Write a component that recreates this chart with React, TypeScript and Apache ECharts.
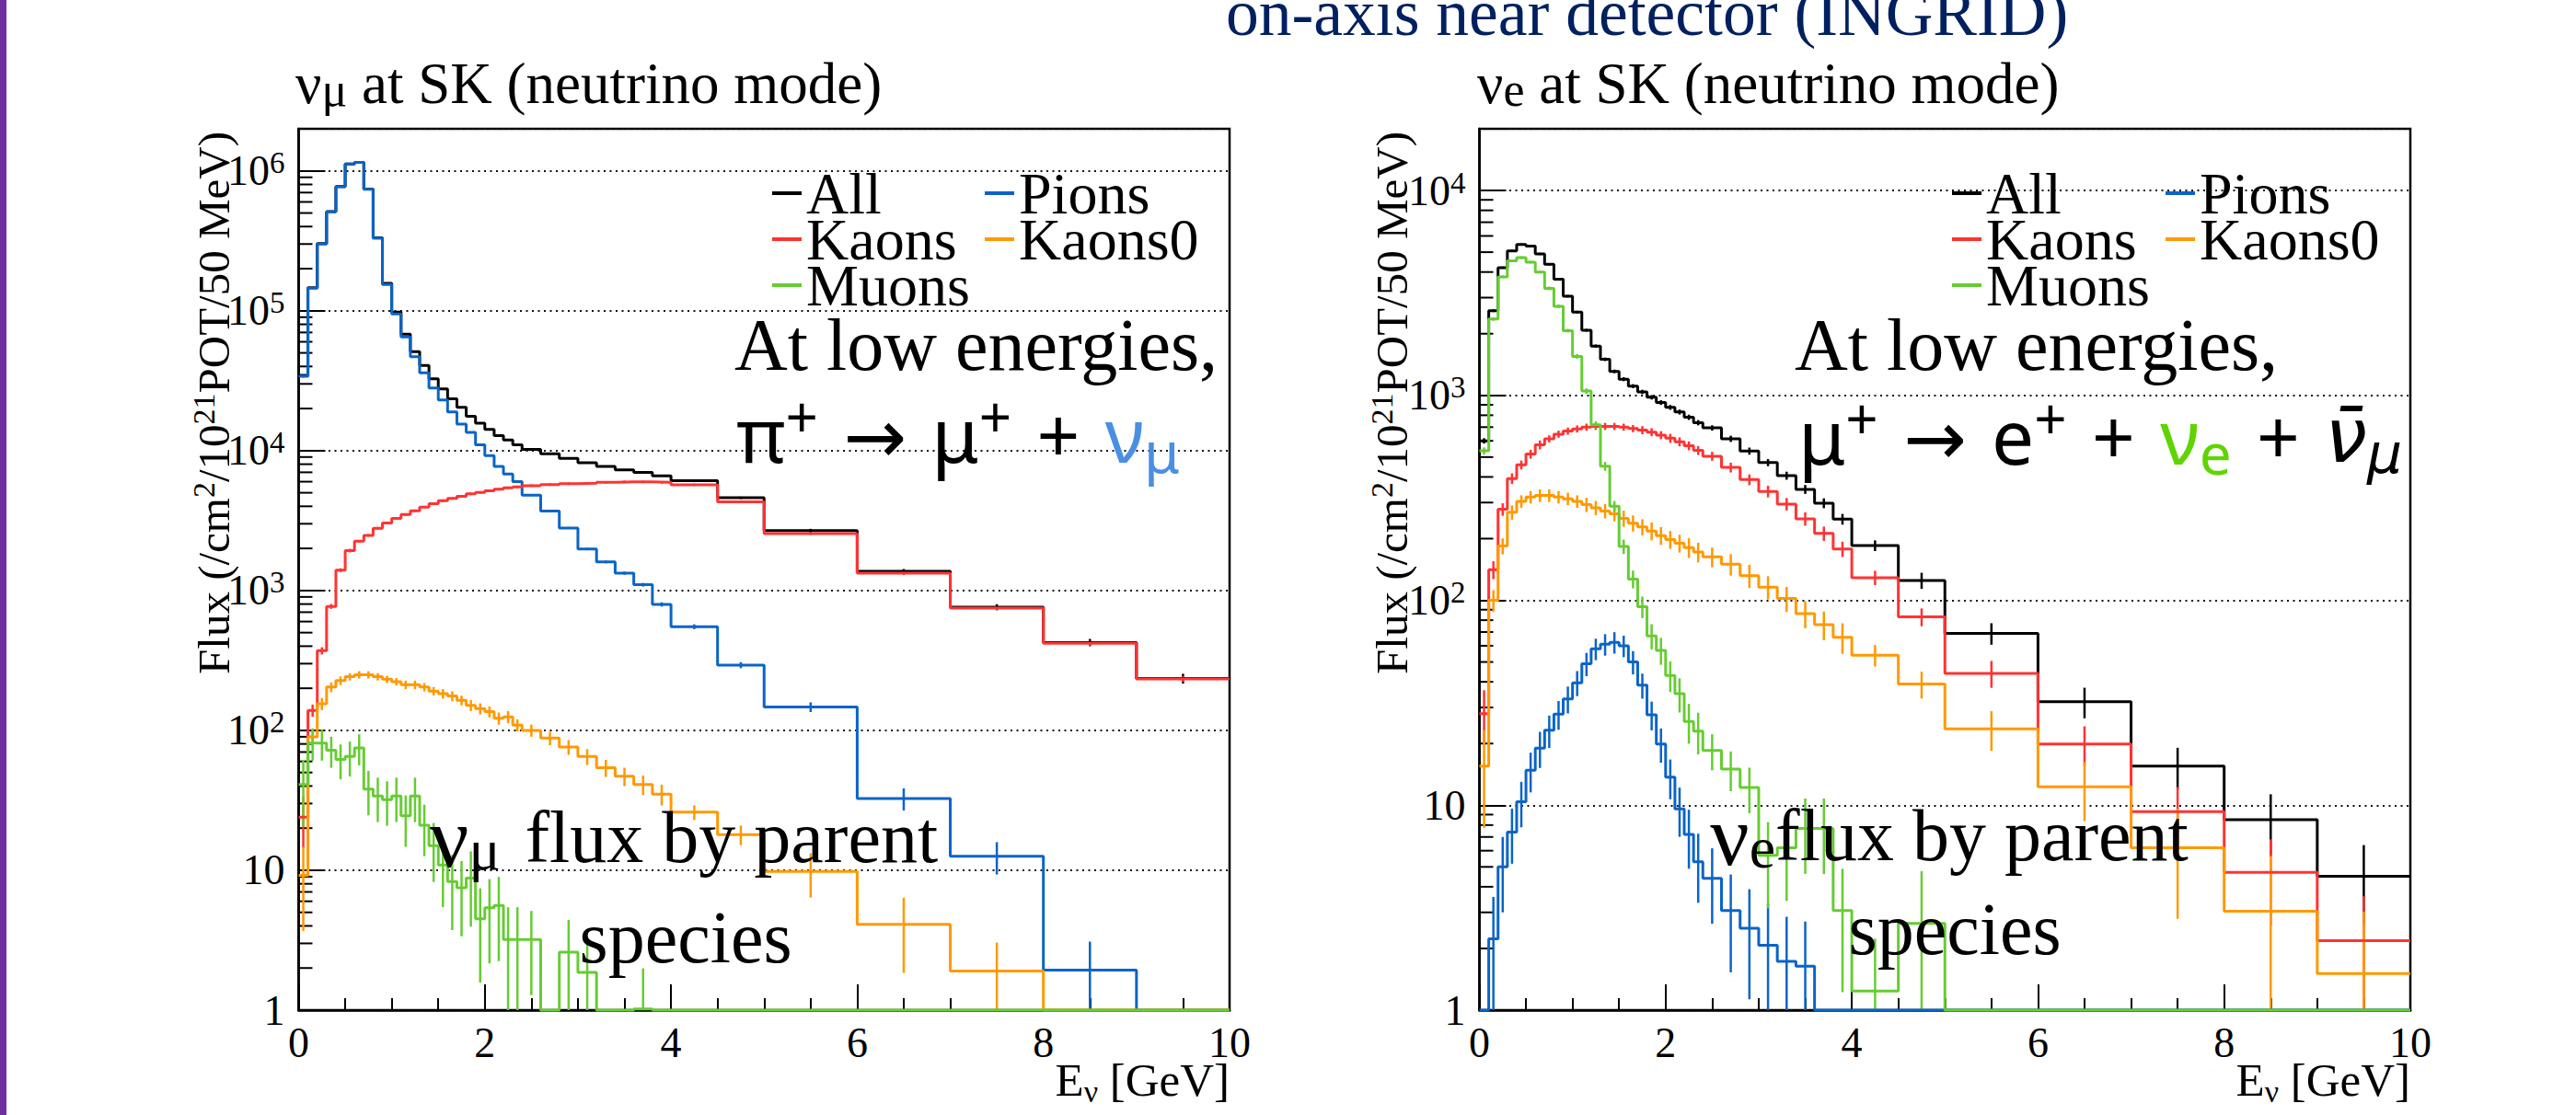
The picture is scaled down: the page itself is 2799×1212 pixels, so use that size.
import React, { useEffect, useRef } from "react";
import * as echarts from "echarts";

// Bin edges (GeV)
const EDGES = [0, 0.1, 0.2, 0.3, 0.4, 0.5, 0.6, 0.7, 0.8, 0.9, 1.0, 1.1, 1.2, 1.3, 1.4, 1.5, 1.6, 1.7, 1.8, 1.9, 2.0, 2.1, 2.2, 2.3, 2.4, 2.6, 2.8, 3.0, 3.2, 3.4, 3.6, 3.8, 4.0, 4.5, 5.0, 6, 7, 8, 9, 10];

// numu at SK, flux by parent
const NUMU_ALL = [34500, 146000, 302000, 512000, 772000, 1122000, 1152000, 743000, 333000, 157000, 98000, 68000, 51000, 40600, 32600, 27600, 23500, 20400, 17600, 15700, 14200, 12800, 11900, 11000, 10200, 9500, 8800, 8200, 7700, 7300, 7000, 6600, 6100, 4600, 2680, 1370, 760, 425, 235];
const NUMU_PIONS = [34000, 145000, 300000, 510000, 770000, 1120000, 1150000, 740000, 330000, 154000, 95000, 65000, 47000, 36000, 28000, 23000, 18900, 15500, 13500, 11000, 9200, 7700, 6800, 6000, 4800, 3700, 2800, 1980, 1600, 1330, 1100, 796, 551, 293, 147, 32.6, 12.6, 1.93, 0];
const NUMU_KAONS = [24, 139, 371, 770, 1400, 1930, 2250, 2480, 2790, 3040, 3280, 3490, 3720, 3950, 4180, 4390, 4550, 4720, 4910, 5030, 5160, 5300, 5430, 5510, 5620, 5710, 5800, 5850, 5930, 5980, 5980, 5930, 5700, 4300, 2550, 1330, 750, 420, 233];
const NUMU_KAONS0 = [9.2, 90, 155, 204, 227, 242, 250, 250, 242, 232, 223, 212, 212, 204, 191, 183, 176, 164, 151, 143, 136, 122, 125, 109, 100, 88, 76, 65, 54, 47, 41, 35, 26, 18, 9.8, 4.1, 1.9, 0, 0];
const NUMU_MUONS = [41, 81, 81, 72, 62, 65, 75, 38, 34, 32, 34, 24.5, 34, 21, 15, 10.9, 8.3, 7.5, 8.8, 4.5, 5.4, 5.6, 3.2, 3.2, 3.2, 0, 2.6, 1.86, 0, 0, 1.02, 0, 0, 0, 0, 0, 0, 0, 0];

// relative statistical errors, numu
const NUMU_ALL_ERR = [0.01, 0.005, 0.005, 0.005, 0.005, 0.005, 0.005, 0.005, 0.005, 0.005, 0.005, 0.005, 0.005, 0.005, 0.005, 0.005, 0.005, 0.005, 0.005, 0.005, 0.005, 0.005, 0.005, 0.005, 0.01, 0.01, 0.01, 0.01, 0.01, 0.01, 0.01, 0.01, 0.015, 0.02, 0.03, 0.04, 0.05, 0.06, 0.08];
const NUMU_PIONS_ERR = [0.02, 0.005, 0.005, 0.005, 0.005, 0.005, 0.005, 0.005, 0.005, 0.005, 0.005, 0.005, 0.005, 0.005, 0.005, 0.005, 0.006, 0.006, 0.007, 0.008, 0.008, 0.01, 0.01, 0.01, 0.012, 0.014, 0.016, 0.02, 0.022, 0.025, 0.03, 0.035, 0.04, 0.05, 0.08, 0.18, 0.26, 0.6, 0];
const NUMU_KAONS_ERR = [0.4, 0.1, 0.06, 0.04, 0.03, 0.03, 0.02, 0.02, 0.02, 0.02, 0.02, 0.02, 0.02, 0.02, 0.02, 0.02, 0.02, 0.02, 0.02, 0.02, 0.02, 0.02, 0.02, 0.02, 0.02, 0.02, 0.02, 0.02, 0.02, 0.02, 0.02, 0.02, 0.02, 0.02, 0.02, 0.03, 0.03, 0.04, 0.05];
const NUMU_KAONS0_ERR = [0.6, 0.15, 0.1, 0.08, 0.07, 0.06, 0.06, 0.06, 0.06, 0.06, 0.06, 0.07, 0.07, 0.07, 0.07, 0.08, 0.08, 0.08, 0.09, 0.09, 0.09, 0.1, 0.1, 0.1, 0.1, 0.11, 0.12, 0.13, 0.14, 0.15, 0.16, 0.17, 0.12, 0.16, 0.35, 0.55, 0.6, 0, 0];
const NUMU_MUONS_ERR = [0.5, 0.25, 0.25, 0.25, 0.28, 0.28, 0.25, 0.35, 0.35, 0.35, 0.35, 0.4, 0.35, 0.4, 0.45, 0.5, 0.55, 0.55, 0.55, 0.65, 0.6, 0.6, 0.7, 0.7, 0.6, 0, 0.7, 0.75, 0, 0, 0.95, 0, 0, 0, 0, 0, 0, 0, 0];

// nue at SK, flux by parent
const NUE_ALL = [600, 2590, 4200, 5070, 5450, 5360, 4900, 4360, 3690, 3050, 2550, 2080, 1740, 1500, 1310, 1200, 1110, 1040, 979, 923, 874, 830, 782, 736, 694, 614, 535, 470, 406, 348, 298, 249, 185, 125, 69, 32, 15.5, 8.5, 4.5];
const NUE_PIONS = [0, 2.23, 5.0, 7.4, 10.4, 14.8, 19, 23.2, 27.8, 33, 39.6, 49, 58, 61, 62.4, 60, 50, 38.5, 27.6, 19.9, 13.7, 9.6, 7.2, 5.3, 4.4, 3.06, 2.51, 2.07, 1.73, 1.64, 0, 0, 0, 0, 0, 0, 0, 0, 0];
const NUE_KAONS = [28, 141, 278, 393, 458, 517, 574, 614, 647, 670, 686, 700, 706, 706, 706, 700, 689, 677, 662, 640, 618, 594, 568, 539, 505, 445, 388, 340, 295, 250, 212, 178, 129, 83, 44, 19.9, 9.3, 4.7, 2.18];
const NUE_KAONS0 = [15.5, 100, 184, 269, 304, 319, 325, 325, 319, 313, 304, 293, 283, 273, 264, 251, 238, 228, 218, 207, 198, 190, 181, 172, 163, 150, 132, 116, 102, 86, 76, 66, 54, 39, 23.6, 12.3, 6.2, 3.04, 1.51];
const NUE_MUONS = [536, 2360, 3790, 4540, 4700, 4470, 4000, 3330, 2720, 2070, 1550, 1050, 718, 451, 288, 183, 127, 93, 67, 57, 43, 35, 25.6, 23, 18.5, 15, 12.2, 5.7, 6.2, 7.7, 7.7, 3.06, 1.24, 2.65, 0, 0, 0, 0, 0];

const NUE_ALL_ERR = [0.03, 0.015, 0.012, 0.012, 0.012, 0.012, 0.012, 0.012, 0.013, 0.014, 0.015, 0.016, 0.018, 0.02, 0.02, 0.022, 0.022, 0.024, 0.025, 0.026, 0.027, 0.028, 0.03, 0.03, 0.03, 0.035, 0.04, 0.04, 0.045, 0.05, 0.055, 0.06, 0.06, 0.09, 0.12, 0.17, 0.23, 0.33, 0.42];
const NUE_PIONS_ERR = [0, 0.6, 0.4, 0.3, 0.25, 0.22, 0.2, 0.18, 0.16, 0.15, 0.14, 0.13, 0.12, 0.12, 0.12, 0.12, 0.13, 0.14, 0.16, 0.19, 0.22, 0.27, 0.32, 0.37, 0.4, 0.5, 0.55, 0.6, 0.65, 0.65, 0, 0, 0, 0, 0, 0, 0, 0, 0];
const NUE_KAONS_ERR = [0.3, 0.1, 0.07, 0.06, 0.05, 0.05, 0.05, 0.04, 0.04, 0.04, 0.04, 0.04, 0.04, 0.04, 0.04, 0.04, 0.04, 0.045, 0.045, 0.045, 0.05, 0.05, 0.05, 0.05, 0.05, 0.055, 0.06, 0.065, 0.07, 0.075, 0.08, 0.085, 0.08, 0.1, 0.15, 0.22, 0.32, 0.45, 0.65];
const NUE_KAONS0_ERR = [0.5, 0.12, 0.09, 0.08, 0.07, 0.07, 0.07, 0.07, 0.07, 0.07, 0.07, 0.08, 0.08, 0.08, 0.08, 0.09, 0.09, 0.09, 0.1, 0.1, 0.1, 0.1, 0.11, 0.11, 0.11, 0.12, 0.13, 0.13, 0.14, 0.15, 0.16, 0.17, 0.12, 0.15, 0.22, 0.32, 0.55, 0.85, 1.0];
const NUE_MUONS_ERR = [0.04, 0.02, 0.015, 0.015, 0.015, 0.015, 0.015, 0.02, 0.02, 0.02, 0.025, 0.03, 0.04, 0.05, 0.06, 0.08, 0.1, 0.12, 0.14, 0.15, 0.17, 0.19, 0.22, 0.23, 0.2, 0.22, 0.25, 0.45, 0.45, 0.4, 0.4, 0.6, 0.8, 0.8, 0, 0, 0, 0, 0];

const NAMES = ["All", "Pions", "Kaons", "Kaons0", "Muons"];
const COLORS = ["#000000", "#0a64c8", "#ff3333", "#ff9900", "#66cc33"];
const Y_MAX = [2e6, 2e4];

const SERIF = "'Liberation Serif', 'Times New Roman', serif";
const SANS = "'Noto Sans', 'DejaVu Sans', sans-serif";

const PANELS = [
  {
    vals: [NUMU_ALL, NUMU_PIONS, NUMU_KAONS, NUMU_KAONS0, NUMU_MUONS],
    errs: [NUMU_ALL_ERR, NUMU_PIONS_ERR, NUMU_KAONS_ERR, NUMU_KAONS0_ERR, NUMU_MUONS_ERR],
  },
  {
    vals: [NUE_ALL, NUE_PIONS, NUE_KAONS, NUE_KAONS0, NUE_MUONS],
    errs: [NUE_ALL_ERR, NUE_PIONS_ERR, NUE_KAONS_ERR, NUE_KAONS0_ERR, NUE_MUONS_ERR],
  },
];

const FLOOR = 1; // axis minimum; empty bins are drawn on it (ROOT style)

function histPoints(vals: number[]) {
  const pts: number[][] = [];
  vals.forEach((v, i) => {
    const y = v >= FLOOR ? v : FLOOR;
    pts.push([EDGES[i], y], [EDGES[i + 1], y]);
  });
  return pts;
}

function errPoints(vals: number[], rel: number[]) {
  const out: number[][] = [];
  vals.forEach((v, i) => {
    const e = rel[i];
    if (!(v > 0) || !(e > 0)) return;
    const hi = v * (1 + e);
    if (hi <= FLOOR) return;
    const lo = Math.max(v * (1 - e), FLOOR);
    out.push([(EDGES[i] + EDGES[i + 1]) / 2, lo, hi]);
  });
  return out;
}

function minorTickValues(max: number) {
  const out: number[][] = [];
  for (let p = 1; p < max; p *= 10) {
    for (let k = 2; k <= 9; k++) {
      const v = k * p;
      if (v < max) out.push([0, v]);
    }
  }
  return out;
}

const yFormatter = (v: number) => {
  const l = Math.log10(v);
  const n = Math.round(l);
  if (Math.abs(l - n) > 1e-6) return "";
  if (n === 0) return "{a|1}";
  if (n === 1) return "{a|10}";
  return "{a|10}{b|" + n + "}";
};

function rt(size: number, lh: number, extra: any = {}) {
  return { fontSize: size, fontFamily: SERIF, lineHeight: lh, fill: "#000", color: "#000", verticalAlign: "middle", ...extra };
}

function textEl(x: number, y: number, text: string, rich: any, align: string, extra: any = {}) {
  return {
    type: "text",
    x,
    y,
    z: 100,
    silent: true,
    ...extra,
    style: {
      text,
      rich,
      x: 0,
      y: 0,
      align,
      textAlign: align,
      verticalAlign: "middle",
      textVerticalAlign: "middle",
      fill: "#000",
    },
  };
}

export default function App() {
  const ref = useRef<HTMLDivElement>(null);

  useEffect(() => {
    if (!ref.current) return;
    const chart = echarts.init(ref.current, null, { renderer: "svg" });

    const grids = [
      { left: 324.5, top: 140, width: 1011.5, height: 958 },
      { left: 1607.5, top: 140, width: 1011.5, height: 958 },
    ].map((g) => ({ ...g, show: true, borderColor: "#000", borderWidth: 2.5, backgroundColor: "transparent" }));

    const xAxes = [0, 1].map((g) => ({
      type: "value",
      gridIndex: g,
      min: 0,
      max: 10,
      interval: 2,
      axisLine: { show: true, onZero: false, lineStyle: { color: "#000", width: 2.5 } },
      axisTick: { show: true, inside: true, length: 28, lineStyle: { color: "#000", width: 2 } },
      minorTick: { show: true, splitNumber: 4, length: 13, lineStyle: { color: "#000", width: 2 } },
      axisLabel: { margin: 12, fontSize: 46, fontFamily: SERIF, color: "#000" },
      splitLine: { show: false },
    }));

    const yAxes = [0, 1].map((g) => ({
      type: "log",
      logBase: 10,
      gridIndex: g,
      min: 1,
      max: Y_MAX[g],
      axisLine: { show: true, lineStyle: { color: "#000", width: 2.5 } },
      axisTick: { show: true, inside: true, length: 29, lineStyle: { color: "#000", width: 2 } },
      minorTick: { show: false },
      axisLabel: {
        margin: 15,
        formatter: yFormatter,
        color: "#000",
        rich: {
          a: { fontSize: 46, fontFamily: SERIF, color: "#000", lineHeight: 50 },
          b: { fontSize: 33, fontFamily: SERIF, color: "#000", lineHeight: 38, verticalAlign: "top" },
        },
      },
      splitLine: { show: true, lineStyle: { color: "#111", type: [2, 4.5], width: 2 } },
    }));

    const series: any[] = [];
    PANELS.forEach((panel, g) => {
      // minor log ticks on the y axis (2..9 x 10^n)
      series.push({
        type: "custom",
        name: "minor-" + g,
        xAxisIndex: g,
        yAxisIndex: g,
        silent: true,
        data: minorTickValues(Y_MAX[g]),
        encode: { x: 0, y: 1 },
        renderItem: (params: any, api: any) => {
          const c = api.coord([api.value(0), api.value(1)]);
          return { type: "line", shape: { x1: c[0], y1: c[1], x2: c[0] + 15, y2: c[1] }, style: { stroke: "#000", lineWidth: 2 } };
        },
      });
      NAMES.forEach((name, k) => {
        const color = COLORS[k];
        series.push({
          type: "line",
          name,
          xAxisIndex: g,
          yAxisIndex: g,
          data: histPoints(panel.vals[k]),
          color,
          showSymbol: false,
          symbol: "none",
          clip: false,
          lineStyle: { color, width: 3 },
          itemStyle: { color },
          silent: true,
        });
        series.push({
          type: "custom",
          name: "err-" + name + "-" + g,
          xAxisIndex: g,
          yAxisIndex: g,
          silent: true,
          clip: false,
          data: errPoints(panel.vals[k], panel.errs[k]),
          encode: { x: 0, y: [1, 2] },
          renderItem: (params: any, api: any) => {
            const a = api.coord([api.value(0), api.value(1)]);
            const b = api.coord([api.value(0), api.value(2)]);
            return { type: "line", shape: { x1: a[0], y1: a[1], x2: b[0], y2: b[1] }, style: { stroke: color, lineWidth: 2.5 } };
          },
        });
      });
    });

    const legendBase = {
      orient: "vertical",
      top: 178,
      padding: 0,
      itemGap: -14,
      icon: "rect",
      itemWidth: 32,
      itemHeight: 4,
      selectedMode: false,
      textStyle: { fontFamily: SERIF, fontSize: 64, color: "#000", lineHeight: 50 },
    };
    const legends = [
      { ...legendBase, left: 839, data: ["All", "Kaons", "Muons"] },
      { ...legendBase, left: 1070, data: ["Pions", "Kaons0"] },
      { ...legendBase, left: 2121, data: ["All", "Kaons", "Muons"] },
      { ...legendBase, left: 2353, data: ["Pions", "Kaons0"] },
    ];

    const titleRich = { m: rt(63, 64), s: rt(52, 36, { verticalAlign: "bottom" }) };
    const yTitleRich = { m: rt(49, 56), p: rt(34, 36, { verticalAlign: "top" }) };
    const xTitleRich = { m: rt(51, 58), s: rt(34, 26, { verticalAlign: "bottom" }) };
    const bigRich = {
      m: rt(80, 90),
      n: rt(94, 90),
      s: rt(64, 40, { verticalAlign: "bottom" }),
    };
    const eqRich = (hl: string) => ({
      m: { fontSize: 82, fontFamily: SANS, lineHeight: 100, fill: "#000", color: "#000", verticalAlign: "middle" },
      p: { fontSize: 62, fontFamily: SANS, lineHeight: 42, fill: "#000", color: "#000", verticalAlign: "top" },
      c: { fontSize: 82, fontFamily: SANS, lineHeight: 100, fill: hl, color: hl, verticalAlign: "middle" },
      cs: { fontSize: 62, fontFamily: SANS, lineHeight: 56, fill: hl, color: hl, verticalAlign: "bottom" },
      i: { fontSize: 82, fontFamily: "'DejaVu Sans', sans-serif", fontStyle: "italic", lineHeight: 100, fill: "#000", color: "#000", verticalAlign: "middle" },
      is: { fontSize: 60, fontFamily: "'DejaVu Sans', sans-serif", fontStyle: "italic", lineHeight: 56, fill: "#000", color: "#000", verticalAlign: "bottom" },
    });
    const SP = "\u2004";

    const graphic = [
      { type: "rect", z: 100, silent: true, shape: { x: 0, y: 0, width: 7, height: 1212 }, style: { fill: "#7030A0" } },
      textEl(1332, 13, "{t|on-axis near detector (INGRID)}", { t: rt(71.5, 72, { fill: "#002060", color: "#002060" }) }, "left"),
      // panel titles
      textEl(321, 91, "{m|\u03BD}{s|\u03BC}{m| at SK (neutrino mode)}", titleRich, "left"),
      textEl(1605, 91, "{m|\u03BD}{s|e}{m| at SK (neutrino mode)}", titleRich, "left"),
      // y axis titles
      textEl(232, 143, "{m|Flux (/cm}{p|2}{m|/10}{p|21}{m|POT/50 MeV)}", yTitleRich, "right", { rotation: Math.PI / 2 }),
      textEl(1512, 143, "{m|Flux (/cm}{p|2}{m|/10}{p|21}{m|POT/50 MeV)}", yTitleRich, "right", { rotation: Math.PI / 2 }),
      // x axis titles
      textEl(1336, 1174, "{m|E}{s|\u03BD}{m| [GeV]}", xTitleRich, "right"),
      textEl(2619, 1174, "{m|E}{s|\u03BD}{m| [GeV]}", xTitleRich, "right"),
      // annotations
      textEl(798, 375, "{m|At low energies,}", bigRich, "left"),
      textEl(1950, 375, "{m|At low energies,}", bigRich, "left"),
      textEl(800, 471, "{m|\u03C0}{p|+}{m|" + SP + "\u2192" + SP + "\u03BC}{p|+}{m|" + SP + "+" + SP + "}{c|\u03BD}{cs|\u03BC}", eqRich("#4a90e2"), "left"),
      textEl(1954, 473, "{m|\u03BC}{p|+}{m|" + SP + "\u2192" + SP + "e}{p|+}{m|" + SP + "+" + SP + "}{c|\u03BD}{cs|e}{m|" + SP + "+" + SP + "}{i|\u03BD\u0304}{is|\u03BC}", eqRich("#5fd400"), "left"),
      textEl(743, 910, "{n|\u03BD}{s|\u03BC}{m|" + SP + "flux by parent}", bigRich, "center"),
      textEl(745, 1019, "{m|species}", bigRich, "center"),
      textEl(2118, 908, "{n|\u03BD}{s|e}{m|flux by parent}", bigRich, "center"),
      textEl(2124, 1010, "{m|species}", bigRich, "center"),
    ];

    chart.setOption({
      animation: false,
      backgroundColor: "#ffffff",
      grid: grids,
      xAxis: xAxes,
      yAxis: yAxes,
      legend: legends,
      series,
      graphic,
    });

    return () => chart.dispose();
  }, []);

  return (
    <div
      ref={ref}
      style={{ position: "fixed", left: 0, top: 0, width: "2799px", height: "1212px", background: "#fff" }}
    />
  );
}
